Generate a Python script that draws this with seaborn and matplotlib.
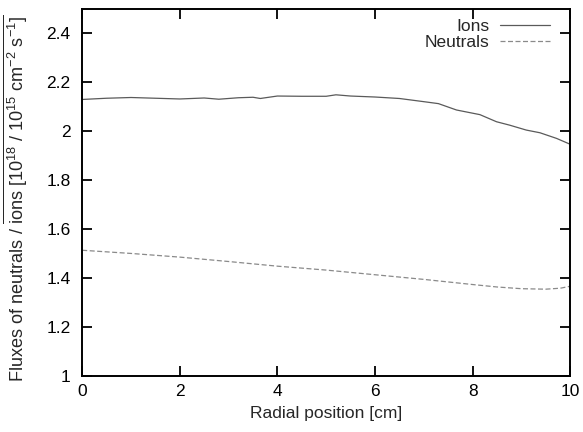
import numpy as np
import pandas as pd
import matplotlib
matplotlib.use("Agg")
import matplotlib.pyplot as plt
import seaborn as sns

ions_x = [0.0, 0.5, 1.0, 1.5, 2.0, 2.5, 2.8, 3.2, 3.5, 3.65, 4.0, 4.5, 5.0, 5.2, 5.5, 6.0, 6.5, 7.0,
          7.3, 7.67, 8.15, 8.49, 8.76, 9.1, 9.38, 9.72, 10.0]
ions_y = [2.129, 2.134, 2.137, 2.134, 2.131, 2.135, 2.130, 2.136, 2.138, 2.133, 2.143, 2.142, 2.142,
          2.148, 2.143, 2.139, 2.133, 2.120, 2.112, 2.086, 2.067, 2.038, 2.024, 2.004, 1.993, 1.970, 1.946]

neut_x = [0.0, 1.0, 2.0, 3.0, 4.0, 5.0, 6.0, 7.0, 8.0, 8.5, 9.0, 9.5, 9.8, 10.0]
neut_y = [1.513, 1.500, 1.485, 1.467, 1.448, 1.432, 1.413, 1.394, 1.373, 1.363, 1.356, 1.354, 1.358, 1.366]

xticks = [0, 2, 4, 6, 8, 10]
yticks = [1.0, 1.2, 1.4, 1.6, 1.8, 2.0, 2.2, 2.4]
ytick_labels = ["1", "1.2", "1.4", "1.6", "1.8", "2", "2.2", "2.4"]

sns.set_style("ticks")
plt.rcParams['font.family'] = ['Liberation Sans', 'DejaVu Sans']
plt.rcParams['mathtext.fontset'] = 'custom'
plt.rcParams['mathtext.rm'] = 'Liberation Sans'
plt.rcParams['mathtext.it'] = 'Liberation Sans'

FS = 12.5

fig = plt.figure(figsize=(5.83, 4.32), dpi=100)
ax = fig.add_axes([0.141, 0.130, 0.837, 0.850])

df_i = pd.DataFrame({"x": ions_x, "y": ions_y})
df_n = pd.DataFrame({"x": neut_x, "y": neut_y})
sns.lineplot(data=df_i, x="x", y="y", ax=ax, color="#5a5a5a", linewidth=0.9, label="Ions")
sns.lineplot(data=df_n, x="x", y="y", ax=ax, color="#8a8a8a", linewidth=0.9, label="Neutrals",
             linestyle=(0, (4, 2)))

ax.set_xlim(0, 10)
ax.set_ylim(1.0, 2.5)
ax.set_xticks(xticks)
ax.set_xticklabels([str(t) for t in xticks])
ax.set_yticks(yticks)
ax.set_yticklabels(ytick_labels)
ax.tick_params(direction="in", length=7, width=1.3, top=True, right=True, labelsize=FS,
               colors="black")
ax.tick_params(axis="y", pad=8.5)
ax.tick_params(axis="x", pad=6)
for s in ax.spines.values():
    s.set_linewidth(1.4)
    s.set_color("black")

ax.set_xlabel("Radial position [cm]", fontsize=FS, labelpad=5)
ax.set_ylabel(r"Fluxes of neutrals / $\overline{\mathregular{ions\ [10^{18}\ /\ 10^{15}\ cm^{-2}\ s^{-1}]}}$",
              fontsize=13.1)
ax.yaxis.set_label_coords(-0.11, 0.483)

leg = ax.legend(loc="upper right", frameon=False, markerfirst=False, fontsize=FS,
                handlelength=2.9, handletextpad=0.6, labelspacing=0.05,
                bbox_to_anchor=(0.973, 0.99), borderaxespad=0.0)

fig.savefig("out.png", dpi=100)
